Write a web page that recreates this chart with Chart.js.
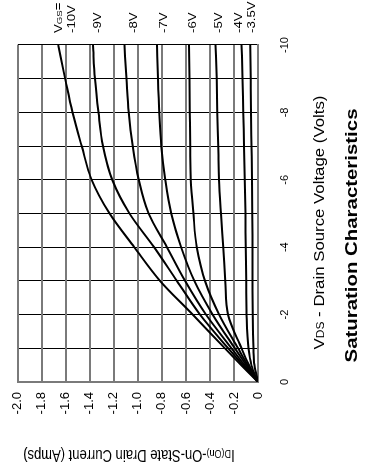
<!DOCTYPE html>
<html>
<head>
<meta charset="utf-8">
<script src="https://cdn.jsdelivr.net/npm/chart.js@4.4.0/dist/chart.umd.min.js"></script>
<style>
  html, body { margin: 0; padding: 0; background: #fff; }
  body { width: 368px; height: 473px; overflow: hidden; position: relative; }
  /* the chart is laid out landscape, then turned a quarter turn to the left */
  #wrap {
    position: absolute; left: 0; top: 0;
    width: 473px; height: 368px;
    transform-origin: 0 0;
    transform: translate(0, 473px) rotate(-90deg);
  }
</style>
</head>
<body>
<div id="wrap"><canvas id="chart" width="473" height="368" style="width:473px;height:368px"></canvas></div>
<script>
// drain-source voltage (V)
const vds = [0, -0.5, -1, -2, -3, -4, -5, -6, -7, -8, -9, -10];

// gate voltages, one curve each
const vgsLabels = ['-10V', '-9V', '-8V', '-7V', '-6V', '-5V', '-4V', '-3.5V'];

// drain current (A)
const id10V = [0, -0.14, -0.276, -0.543, -0.815, -1.03, -1.236, -1.385, -1.468, -1.545, -1.606, -1.664];
const id9V  = [0, -0.125, -0.248, -0.483, -0.675, -0.865, -1.07, -1.214, -1.291, -1.329, -1.358, -1.374];
const id8V  = [0, -0.112, -0.22, -0.433, -0.607, -0.758, -0.911, -0.993, -1.043, -1.076, -1.095, -1.112];
const id7V  = [0, -0.098, -0.193, -0.377, -0.53, -0.64, -0.723, -0.772, -0.805, -0.822, -0.833, -0.841];
const id6V  = [0, -0.086, -0.166, -0.323, -0.441, -0.51, -0.538, -0.56, -0.565, -0.568, -0.571, -0.574];
const id5V  = [0, -0.075, -0.137, -0.25, -0.272, -0.29, -0.309, -0.325, -0.331, -0.339, -0.344, -0.353];
const id4V  = [0, -0.055, -0.08, -0.095, -0.098, -0.102, -0.105, -0.11, -0.116, -0.123, -0.129, -0.137];
const id35V = [0, -0.03, -0.038, -0.044, -0.045, -0.046, -0.047, -0.05, -0.054, -0.058, -0.061, -0.064];

const seriesValues = [id10V, id9V, id8V, id7V, id6V, id5V, id4V, id35V];

// axis ticks
const vdsTicks = [-10, -9, -8, -7, -6, -5, -4, -3, -2, -1, 0];
const vdsTickLabels = ['-10', '', '-8', '', '-6', '', '-4', '', '-2', '', '0'];
const idTicks = [-2, -1.8, -1.6, -1.4, -1.2, -1, -0.8, -0.6, -0.4, -0.2, 0];
const idTickLabels = ['-2.0', '-1.8', '-1.6', '-1.4', '-1.2', '-1.0', '-0.8', '-0.6', '-0.4', '-0.2', '0'];

const FONT = "Arial, 'Liberation Sans', Helvetica, sans-serif";
const STRETCH = 1.2; // the source type is a bit wide

function runsWidth(ctx, runs) {
  let w = 0;
  for (const [t, s, b] of runs) {
    ctx.font = (b ? 'bold ' : '') + s + 'px ' + FONT;
    w += ctx.measureText(t).width;
  }
  return w;
}

function drawRuns(ctx, runs, x, y) {
  for (const [t, s, b] of runs) {
    ctx.font = (b ? 'bold ' : '') + s + 'px ' + FONT;
    ctx.fillText(t, x, y);
    x += ctx.measureText(t).width;
  }
}

// horizontal text, centred on cx, baseline at by, widened
function drawCentered(ctx, runs, cx, by) {
  const w = runsWidth(ctx, runs) * STRETCH;
  ctx.save();
  ctx.translate(cx - w / 2, by);
  ctx.scale(STRETCH, 1);
  drawRuns(ctx, runs, 0, 0);
  ctx.restore();
}

const labelNudge = [13, 4, 9, 6, 3, 2, -4, 1];

const annotations = {
  id: 'annotations',
  afterDraw(chart) {
    const { ctx, chartArea: a, scales: { y } } = chart;
    ctx.save();
    ctx.fillStyle = '#000';
    ctx.textAlign = 'left';
    ctx.textBaseline = 'alphabetic';

    // curve labels right of the plot
    const last = vds.length - 1;
    seriesValues.forEach((vals, i) => {
      const py = y.getPixelForValue(vals[last]) + labelNudge[i];
      ctx.save();
      ctx.translate(a.right + 12, py + 4);
      ctx.scale(STRETCH, 1);
      drawRuns(ctx, [[vgsLabels[i], 11]], 0, 0);
      ctx.restore();
    });
    const py10 = y.getPixelForValue(id10V[last]) + labelNudge[0] - 13;
    ctx.save();
    ctx.translate(a.right + 12, py10 + 4);
    ctx.scale(STRETCH, 1);
    drawRuns(ctx, [['V', 11], ['GS', 8], ['=', 11]], 0, 0);
    ctx.restore();

    // x axis title
    const cx = (a.left + a.right) / 2 - 9;
    drawCentered(ctx, [['V', 14], ['DS', 10], [' - Drain Source Voltage (Volts)', 14]], cx, a.bottom + 66);

    // chart title
    drawCentered(ctx, [['Saturation Characteristics', 17, true]], cx - 13, a.bottom + 99);

    // y axis title, reading upwards
    const yRuns = [['I', 13], ['D(On)', 9], ['-On-State Drain Current (Amps)', 13]];
    const w = runsWidth(ctx, yRuns);
    ctx.save();
    ctx.translate(23, (a.top + a.bottom) / 2 - 9);
    ctx.rotate(-Math.PI / 2);
    ctx.scale(1, STRETCH);
    drawRuns(ctx, yRuns, -w / 2, 0);
    ctx.restore();

    ctx.restore();
  }
};

const datasets = seriesValues.map((vals, i) => ({
  label: vgsLabels[i],
  data: vals.map((v, j) => ({ x: vds[j], y: v })),
  borderColor: '#000',
  borderWidth: 2,
  pointRadius: 0,
  fill: false,
  cubicInterpolationMode: 'monotone'
}));

new Chart(document.getElementById('chart'), {
  type: 'line',
  data: { datasets: datasets },
  options: {
    responsive: false,
    animation: false,
    devicePixelRatio: 1,
    layout: { padding: { top: 17, right: 45, left: 0, bottom: 0 } },
    plugins: { legend: { display: false }, tooltip: { enabled: false } },
    scales: {
      x: {
        type: 'linear',
        min: -10, max: 0,
        reverse: true,
        afterBuildTicks: s => { s.ticks = vdsTicks.map(v => ({ value: v })); },
        afterFit: s => { s.height = 110; },
        ticks: {
          autoSkip: false, maxRotation: 0, padding: 20, color: '#000',
          font: { family: FONT, size: 11 },
          callback: (v, i) => vdsTickLabels[i]
        },
        grid: { color: '#000', lineWidth: 1, drawTicks: false },
        border: { color: '#7a7a7a', width: 2 }
      },
      y: {
        type: 'linear',
        min: -2, max: 0,
        reverse: true,
        afterBuildTicks: s => { s.ticks = idTicks.map(v => ({ value: v })); },
        afterFit: s => { s.width = 91; },
        ticks: {
          autoSkip: false, padding: 10, color: '#000',
          font: { family: FONT, size: 13 },
          callback: (v, i) => idTickLabels[i]
        },
        grid: { color: '#7a7a7a', lineWidth: 2, drawTicks: false },
        border: { color: '#7a7a7a', width: 2 }
      }
    }
  },
  plugins: [annotations]
});
</script>
</body>
</html>
